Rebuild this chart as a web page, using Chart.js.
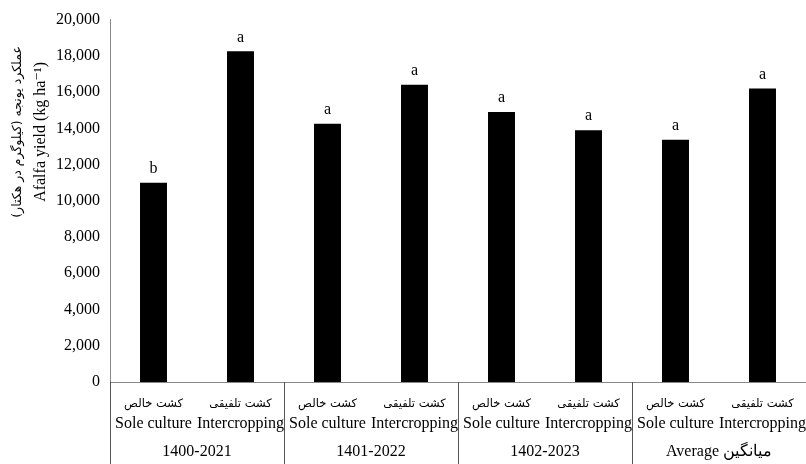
<!DOCTYPE html>
<html>
<head>
<meta charset="utf-8">
<script src="https://cdn.jsdelivr.net/npm/chart.js@4.4.1/dist/chart.umd.min.js"></script>
<style>
  html, body { margin: 0; padding: 0; background: #fff; }
  #wrap { width: 806px; height: 464px; }
</style>
</head>
<body>
<div id="wrap"><canvas id="yieldChart"></canvas></div>
<script>
// treatments per period (Persian line, English line)
const treatmentsFa = ['کشت خالص', 'کشت تلفیقی', 'کشت خالص', 'کشت تلفیقی', 'کشت خالص', 'کشت تلفیقی', 'کشت خالص', 'کشت تلفیقی'];
const treatmentsEn = ['Sole culture', 'Intercropping', 'Sole culture', 'Intercropping', 'Sole culture', 'Intercropping', 'Sole culture', 'Intercropping'];
const periods = ['1400-2021', '1401-2022', '1402-2023', 'Average میانگین'];

// alfalfa yield, kg/ha
const yieldValues = [11000, 18250, 14250, 16400, 14900, 13900, 13370, 16200];
const letters = ['b', 'a', 'a', 'a', 'a', 'a', 'a', 'a'];

const yTicks = [0, 2000, 4000, 6000, 8000, 10000, 12000, 14000, 16000, 18000, 20000];

const titleFa = 'عملکرد یونجه (کیلوگرم در هکتار)';
const titleEn = 'Afalfa yield (kg ha⁻¹)';

const serif = "'Liberation Serif', 'Times New Roman', 'DejaVu Serif', serif";
const persianFont = "'DejaVu Sans', 'Noto Sans', sans-serif";

// letters above bars, Persian tick line, group separators, rotated axis title
const extrasPlugin = {
    id: 'extras',
    afterDatasetsDraw(chart) {
        const ctx = chart.ctx;
        const meta = chart.getDatasetMeta(0);
        ctx.save();
        ctx.fillStyle = '#000';
        ctx.font = '16px ' + serif;
        ctx.textAlign = 'center';
        ctx.textBaseline = 'bottom';
        meta.data.forEach((bar, i) => {
            ctx.fillText(letters[i], bar.x, bar.y - 6);
        });
        ctx.restore();
    },
    afterDraw(chart) {
        const ctx = chart.ctx;
        const x = chart.scales.x;
        const area = chart.chartArea;
        ctx.save();

        // Persian line of the category labels
        ctx.fillStyle = '#000';
        ctx.font = '11.5px ' + persianFont;
        ctx.textAlign = 'center';
        ctx.textBaseline = 'middle';
        treatmentsFa.forEach((t, i) => {
            ctx.fillText(t, x.getPixelForValue(i), area.bottom + 22);
        });

        ctx.strokeStyle = '#555';
        ctx.lineWidth = 1;
        for (let i = 0; i < yieldValues.length; i += 2) {
            let px = i === 0 ? area.left : (x.getPixelForValue(i - 1) + x.getPixelForValue(i)) / 2;
            px = Math.round(px) + 0.5;
            ctx.beginPath();
            ctx.moveTo(px, area.bottom);
            ctx.lineTo(px, chart.height);
            ctx.stroke();
        }

        // y axis title, two rotated lines
        const cy = area.top + (area.bottom - area.top) * 0.31;
        ctx.translate(18, cy);
        ctx.rotate(-Math.PI / 2);
        ctx.font = '12.5px ' + persianFont;
        ctx.fillText(titleFa, 0, 0);
        ctx.font = '16px ' + serif;
        ctx.fillText(titleEn, 0, 23);
        ctx.restore();
    }
};

const chartCtx = document.getElementById('yieldChart').getContext('2d');
const yieldChart = new Chart(chartCtx, {
    type: 'bar',
    data: {
        labels: treatmentsEn,
        datasets: [{
            label: 'Alfalfa yield',
            data: yieldValues,
            backgroundColor: '#000',
            borderWidth: 0,
            barPercentage: 0.31,
            categoryPercentage: 1.0
        }]
    },
    options: {
        responsive: true,
        maintainAspectRatio: false,
        animation: false,
        layout: { padding: { top: 9, right: 0, bottom: 0, left: 0 } },
        plugins: {
            legend: { display: false },
            tooltip: { enabled: false }
        },
        scales: {
            y: {
                min: 0,
                max: 20000,
                afterBuildTicks: (scale) => { scale.ticks = yTicks.map(v => ({ value: v })); },
                afterFit: (scale) => { scale.width = 110; },
                grid: { display: false, drawTicks: false },
                border: { display: true, color: '#888', width: 1 },
                ticks: {
                    color: '#000',
                    padding: 10,
                    font: { family: serif, size: 16 },
                    callback: (v) => Number(v).toLocaleString('en-US')
                }
            },
            x: {
                position: 'bottom',
                afterFit: (scale) => { scale.height = 54; scale.paddingLeft = 0; scale.paddingRight = 0; },
                grid: { display: false, drawTicks: false },
                border: { display: true, color: '#888', width: 1 },
                ticks: {
                    color: '#000',
                    padding: 32,
                    maxRotation: 0,
                    autoSkip: false,
                    font: { family: serif, size: 16 }
                }
            },
            x2: {
                type: 'category',
                position: 'bottom',
                labels: periods,
                offset: true,
                afterFit: (scale) => { scale.height = 28; scale.paddingLeft = 0; scale.paddingRight = 0; },
                grid: { display: false, drawTicks: false },
                border: { display: false },
                ticks: {
                    color: '#000',
                    padding: 6,
                    maxRotation: 0,
                    autoSkip: false,
                    font: { family: serif, size: 16 }
                }
            }
        }
    },
    plugins: [extrasPlugin]
});
</script>
</body>
</html>
